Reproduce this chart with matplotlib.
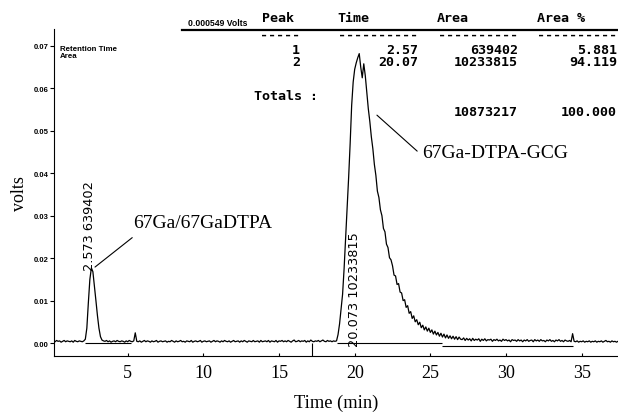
import matplotlib.pyplot as plt
from matplotlib.lines import Line2D
import numpy as np

# detector trace, units of 1e-4 volts, sampled every 0.1 min starting at 0.1 min
baseline_a = [5, 3, 6, 4, 5, 2, 4, 6, 3, 5,
              4, 3, 5, 2, 6, 4, 3, 5, 4, 3,
              5]
peak_1 = [9, 35, 95, 150, 177, 168, 135, 100, 65, 35, 15, 7, 5]
baseline_b = [4, 6, 3, 5, 2, 4, 5, 3, 6, 4,
              3, 5, 4, 2, 5, 3, 6, 4, 3, 5,
              24, 4, 3, 5, 2, 4, 6, 3, 5, 4,
              2, 5, 3, 4, 6, 2, 4, 5, 3, 4,
              5, 2, 4, 3, 6, 4, 2, 5, 3, 4,
              6, 3, 4, 2, 5, 4, 3, 6, 2, 4,
              5, 3, 4, 6, 2, 4, 5, 3, 4, 5,
              2, 4, 6, 3, 5, 4, 2, 5, 3, 6,
              4, 3, 5, 2, 4, 6, 3, 4, 5, 2,
              5, 3, 6, 4, 2, 5, 4, 3, 6, 3,
              4, 5, 2, 6, 3, 4, 5, 3, 6, 2,
              5, 4, 3, 6, 2, 5, 4, 6, 3, 5,
              3, 6, 4, 2, 5, 7, 3, 4, 6, 3,
              5, 4, 6, 2, 5, 3, 7, 4, 3, 5,
              4, 6, 3, 5, 7, 4, 3, 6, 4, 5,
              3, 5, 4]
peak_2 = [5, 20, 45, 80, 115, 175, 245, 320, 390, 470,
          560, 615, 645, 660, 672, 682, 650, 625, 658, 630,
          590, 552, 522, 486, 458, 421, 395, 358, 343, 314,
          300, 270, 262, 233, 225, 201, 196, 182, 160, 158,
          138, 140, 120, 118, 100, 102, 84, 88, 70, 74,
          58, 64, 50, 55, 43, 49, 36, 42, 31, 38,
          28, 35, 25, 31, 21, 28, 19, 25, 16, 23,
          14, 21, 12, 19, 11, 17, 10, 16, 9, 15,
          8, 14, 9]
baseline_c = [8, 12, 6, 11, 7, 10, 5, 11, 6, 9,
              7, 10, 4, 9, 6, 10, 5, 8, 7, 9,
              4, 8, 6, 9, 5, 7, 4, 9, 6, 8,
              5, 7, 3, 8, 6, 7, 4, 8, 5, 7,
              3, 7, 5, 8, 4, 6, 7, 3, 8, 5,
              7, 4, 8, 5, 6, 3, 7, 5, 8, 4,
              6, 3, 7, 5, 8, 4, 6, 3, 7, 5,
              4, 6, 3, 22, 4, 3, 5, 2, 4, 3,
              5, 2, 4, 3, 5, 2, 4, 3, 5, 2,
              4, 3, 5, 2, 4, 6, 3, 4, 2, 5,
              3, 4, 2, 4]

volts = np.array(baseline_a + peak_1 + baseline_b + peak_2 + baseline_c) * 1e-4
time_min = np.round(0.1 * np.arange(1, len(volts) + 1), 1)

# integration baselines drawn by the software
base_start = [2.2, 18.8, 25.8]
base_end = [5.2, 25.8, 34.4]
base_level = [0.0, 0.0, -0.0006]
event_time = 17.2

# peak table
headers = ['Peak', 'Time', 'Area', 'Area %']
peak_ids = ['1', '2']
peak_times = ['2.57', '20.07']
peak_areas = ['639402', '10233815']
peak_pcts = ['5.881', '94.119']
total_area = '10873217'
total_pct = '100.000'
peak_rt = ['2.573', '20.073']
label_x = [2.45, 20.0]
label_y = [0.0172, -0.0007]

W, H = 618, 414
fig = plt.figure(figsize=(W / 100, H / 100), dpi=100)
ax = fig.add_axes([54 / W, 1 - 357 / H, (W - 54) / W, (357 - 30) / H])

ax.plot(time_min, volts, color='black', lw=0.9)
ax.hlines(base_level, base_start, base_end, color='black', lw=0.8)
ax.vlines(event_time, -0.0031, 0.0, color='black', lw=0.8)

for rt, area, x, y in zip(peak_rt, peak_areas, label_x, label_y):
    ax.text(x, y, rt + ' ' + area, rotation=90, ha='center', va='bottom',
            fontsize=9.3, family='DejaVu Sans')

serif = 'Liberation Serif'
ax.annotate('67Ga/67GaDTPA', xy=(2.84, 0.0179), xytext=(5.36, 0.0283),
            ha='left', va='center', fontsize=14, family=serif,
            arrowprops=dict(arrowstyle='-', lw=0.8, color='black',
                            relpos=(0.05, 0.0), shrinkA=4, shrinkB=0))
ax.annotate('67Ga-DTPA-GCG', xy=(21.47, 0.0537), xytext=(24.45, 0.045),
            ha='left', va='center', fontsize=14, family=serif,
            arrowprops=dict(arrowstyle='-', lw=0.8, color='black',
                            relpos=(0.0, 0.3), shrinkA=2, shrinkB=0))

ax.set_xlim(0.13, 37.4)
ax.set_ylim(-0.00306, 0.0740)
ax.set_xticks([5, 10, 15, 20, 25, 30, 35])
ax.set_yticks([0.0, 0.01, 0.02, 0.03, 0.04, 0.05, 0.06, 0.07])
ax.set_yticklabels(['0.00', '0.01', '0.02', '0.03', '0.04', '0.05', '0.06', '0.07'])
for lab in ax.get_xticklabels():
    lab.set_family(serif)
    lab.set_fontsize(13)
for lab in ax.get_yticklabels():
    lab.set_family('Liberation Sans')
    lab.set_fontsize(5.5)
    lab.set_fontweight('bold')
ax.tick_params(axis='x', direction='in', length=2.5, pad=6)
ax.tick_params(axis='y', direction='out', length=3, pad=1)
ax.spines['top'].set_visible(False)
ax.spines['right'].set_visible(False)
ax.set_xlabel('Time (min)', family=serif, fontsize=13.3, labelpad=9)
ax.set_ylabel('volts', family=serif, fontsize=13, labelpad=4)

ax.text(0.01, 0.93, 'Retention Time\nArea', transform=ax.transAxes, ha='left', va='center',
        fontsize=5.7, fontweight='bold', family='Liberation Sans', linespacing=1.1)


def ftext(x, y, s, **kw):
    fig.text(x / W, 1 - y / H, s, **kw)


mono = dict(family='DejaVu Sans Mono', fontweight='bold', fontsize=9.6, va='center')
ftext(188, 23, '0.000549 Volts', fontsize=6.2, fontweight='bold',
      family='Liberation Sans', va='center')
fig.add_artist(Line2D([182 / W, 1.0], [1 - 31 / H, 1 - 31 / H], color='black', lw=1.6))

head_left = [262, 337, 437, 537]
col_right = [300, 418, 518, 617]
dash_len = [5, 10, 10, 10]
for h, xl, xr, n in zip(headers, head_left, col_right, dash_len):
    ftext(xl, 18, h, ha='left', **mono)
    ftext(xr, 35, '-' * n, ha='right', **mono)

for i, row in enumerate(zip(peak_ids, peak_times, peak_areas, peak_pcts)):
    for s, xr in zip(row, col_right):
        ftext(xr, 50 + 13 * i, s, ha='right', **mono)

ftext(254, 97, 'Totals :', ha='left', **mono)
ftext(col_right[2], 112, total_area, ha='right', **mono)
ftext(col_right[3], 112, total_pct, ha='right', **mono)

fig.savefig('out.png', dpi=100, facecolor='white')
